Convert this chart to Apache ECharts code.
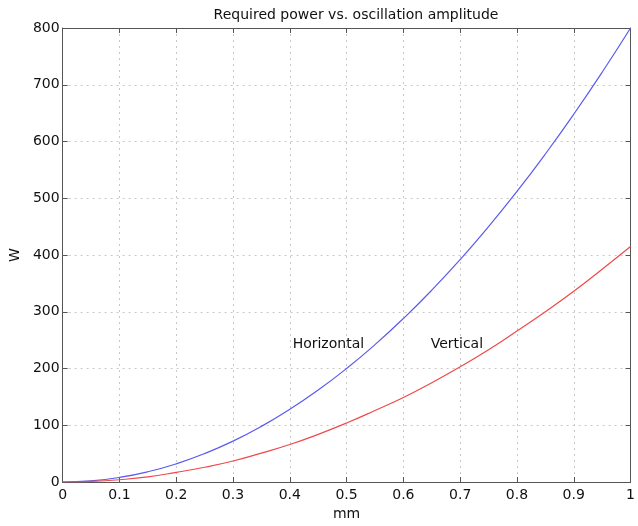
<!DOCTYPE html>
<html>
<head>
<meta charset="utf-8">
<script src="https://cdn.jsdelivr.net/npm/echarts@6/dist/echarts.min.js"></script>
<style>
  html, body { margin: 0; padding: 0; background: #fff; }
  #chart { width: 638px; height: 526px; }
</style>
</head>
<body>
<div id="chart"></div>
<script>
// amplitude in mm
var amplitude = [0, 0.05, 0.1, 0.15, 0.2, 0.25, 0.3, 0.35, 0.4, 0.45, 0.5,
  0.55, 0.6, 0.65, 0.7, 0.75, 0.8, 0.85, 0.9, 0.95, 1];
// required power, W
var horizontal = [0, 2, 8, 18, 32, 50, 72, 98, 128, 162, 200,
  242, 288, 338, 392, 450, 512, 578, 648, 722, 800];
var vertical = [0, 1, 4, 9, 17, 26, 37, 51, 66, 84, 104,
  126, 149, 175, 203, 233, 266, 300, 336, 375, 415];
var xTicks = [0, 0.1, 0.2, 0.3, 0.4, 0.5, 0.6, 0.7, 0.8, 0.9, 1];
var yTicks = [0, 100, 200, 300, 400, 500, 600, 700, 800];
var curveLabels = [
  { name: 'Horizontal', x: 0.405, y: 243 },
  { name: 'Vertical', x: 0.648, y: 243 }
];

function pairs(xs, ys) {
  return xs.map(function (x, i) { return [x, ys[i]]; });
}

var font = 'DejaVu Sans, Liberation Sans, Arial, sans-serif';
var fs = 14;
var chart = echarts.init(document.getElementById('chart'), null, { renderer: 'canvas' });

var mainX = {
  type: 'value', min: 0, max: 1, interval: 0.1,
  axisLine: { show: true, onZero: false, lineStyle: { color: '#555', width: 1 } },
  axisTick: { show: true, inside: true, length: 5, lineStyle: { color: '#555' } },
  axisLabel: { color: '#111', fontSize: fs, fontFamily: font, margin: 6,
    formatter: function (v) { return xTicks.indexOf(+v.toFixed(1)) >= 0 ? String(+v.toFixed(1)) : ''; } },
  splitLine: { show: true, lineStyle: { color: '#c8c8c8', type: [2, 4], width: 1 } },
  name: 'mm', nameLocation: 'middle', nameGap: 25,
  nameTextStyle: { color: '#111', fontSize: fs, fontFamily: font }
};
var mainY = {
  type: 'value', min: 0, max: 800, interval: 100,
  axisLine: { show: true, onZero: false, lineStyle: { color: '#555', width: 1 } },
  axisTick: { show: true, inside: true, length: 5, lineStyle: { color: '#555' } },
  axisLabel: { color: '#111', fontSize: fs, fontFamily: font, margin: 3,
    formatter: function (v) { return yTicks.indexOf(v) >= 0 ? String(v) : ''; } },
  splitLine: { show: true, lineStyle: { color: '#c8c8c8', type: [2, 4], width: 1 } },
  name: 'W', nameLocation: 'middle', nameGap: 36,
  nameTextStyle: { color: '#111', fontSize: fs, fontFamily: font }
};

chart.setOption({
  backgroundColor: '#fff',
  animation: false,
  title: {
    text: 'Required power vs. oscillation amplitude',
    left: 351, top: 3, textAlign: 'center',
    textStyle: { color: '#111', fontSize: fs, fontWeight: 'normal', fontFamily: font }
  },
  grid: { left: 61, right: 5, top: 28, bottom: 40 },
  xAxis: [mainX, {
    type: 'value', min: 0, max: 1, interval: 0.1, position: 'top',
    axisLine: { show: true, onZero: false, lineStyle: { color: '#555' } },
    axisTick: { show: true, inside: true, length: 5, lineStyle: { color: '#555' } },
    axisLabel: { show: false }, splitLine: { show: false }
  }],
  yAxis: [mainY, {
    type: 'value', min: 0, max: 800, interval: 100, position: 'right',
    axisLine: { show: true, onZero: false, lineStyle: { color: '#555' } },
    axisTick: { show: true, inside: true, length: 5, lineStyle: { color: '#555' } },
    axisLabel: { show: false }, splitLine: { show: false }
  }],
  series: [
    {
      name: 'Horizontal', type: 'line', smooth: true, showSymbol: false,
      data: pairs(amplitude, horizontal),
      lineStyle: { color: '#5a5aee', width: 1.2 },
      markPoint: {
        symbol: 'circle', symbolSize: 0,
        label: { show: true, position: 'right', distance: 0, color: '#111',
          fontSize: fs, fontFamily: font, formatter: '{b}' },
        data: [{ name: curveLabels[0].name, coord: [curveLabels[0].x, curveLabels[0].y] }]
      }
    },
    {
      name: 'Vertical', type: 'line', smooth: true, showSymbol: false,
      data: pairs(amplitude, vertical),
      lineStyle: { color: '#ee4a4a', width: 1.2 },
      markPoint: {
        symbol: 'circle', symbolSize: 0,
        label: { show: true, position: 'right', distance: 0, color: '#111',
          fontSize: fs, fontFamily: font, formatter: '{b}' },
        data: [{ name: curveLabels[1].name, coord: [curveLabels[1].x, curveLabels[1].y] }]
      }
    }
  ]
});
</script>
</body>
</html>
